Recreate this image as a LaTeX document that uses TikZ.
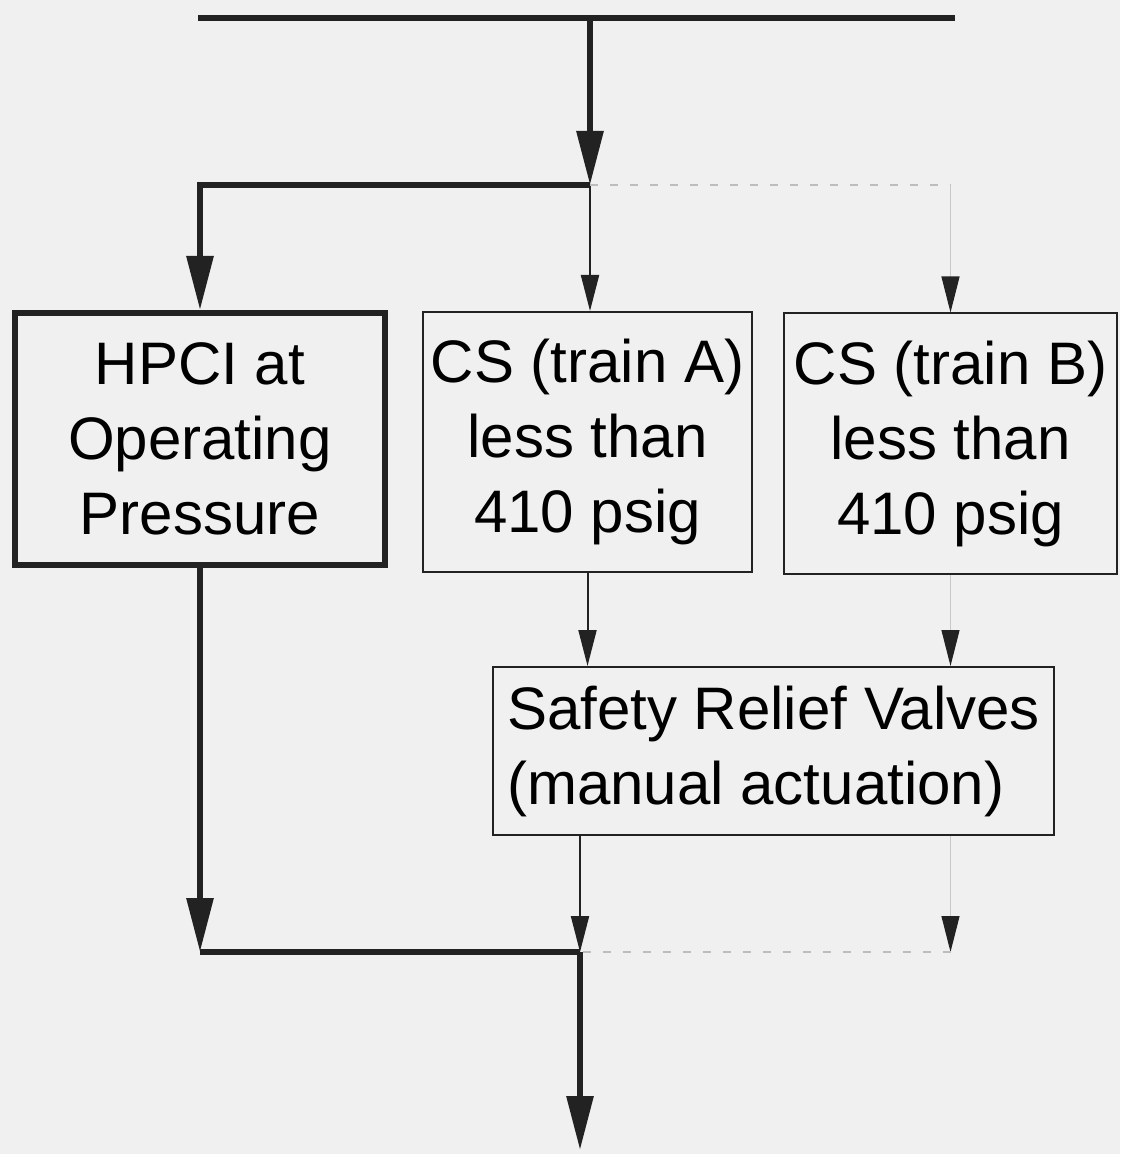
\documentclass[tikz,border=0pt]{standalone}
\usepackage{fontspec}
\setmainfont{Liberation Sans}
\usepackage{tikz}
\usetikzlibrary{arrows.meta}
\usetikzlibrary{calc}
\definecolor{ink}{HTML}{222222}
\definecolor{paper}{HTML}{F0F0F0}
\tikzstyle{thickbox} = [draw=ink,line width=3pt,align=center,inner sep=0pt,minimum width=185pt,minimum height=126pt]
\tikzstyle{thinbox} = [draw=ink,line width=1pt,align=center,inner sep=0pt,minimum height=130pt]
\tikzstyle{srvbox} = [draw=ink,line width=1pt,align=left,inner sep=0pt,minimum width=280.5pt,minimum height=84pt]
\tikzstyle{bigline} = [draw=ink,line width=3pt,line join=miter]
\tikzstyle{bigarrow} = [bigline,-{Triangle[length=27pt,width=13pt]}]
\tikzstyle{thinarrow} = [draw=ink,line width=1pt,-{Triangle[length=18pt,width=9pt]}]
\tikzstyle{faintarrow} = [draw=ink!25,line width=0.6pt,-{Triangle[length=18pt,width=9pt,color=ink]}]
\tikzstyle{faintdash} = [draw=ink!30,line width=0.6pt,dash pattern=on 4pt off 6pt]

\begin{document}
\begin{tikzpicture}[x=0.5pt,y=-0.5pt,font=\fontsize{30}{37.5}\selectfont]
\fill[paper] (0,0) rectangle (1120,1154);
\useasboundingbox (0,0) rectangle (1120,1154);

% supply bus
\coordinate (busL) at (198,18);
\coordinate (busR) at (955,18);
\coordinate (busM) at (590,18);
\coordinate (split) at (590,185);
\coordinate (join) at (580,952);
\coordinate (out) at (580,1150);

\draw(200,439) node[thickbox] (hpci) {HPCI at\\Operating\\Pressure};
\draw(587.5,442) node[thinbox,minimum width=164.5pt] (csa) {CS (train A)\\less than\\410 psig};
\draw(950.5,443.5) node[thinbox,minimum width=166.5pt] (csb) {CS (train B)\\less than\\410 psig};
\draw(773.5,751) node[srvbox] (srv) {Safety Relief Valves\\(manual actuation)};

\draw[bigline] (busL) -- (busR);
\draw[bigarrow] (busM) -- (split);
\draw[bigarrow] (split) -| (hpci.north);
\draw[thinarrow] (split) -- (split |- csa.north);
\draw[faintdash] (split) -- (split -| csb);
\draw[faintarrow] (split -| csb) -- (csb.north);

\draw[thinarrow] (csa.south) -- (csa.south |- srv.north);
\draw[faintarrow] (csb.south) -- (csb.south |- srv.north);

% to the outlet
\draw[bigarrow] (hpci.south) -- (hpci.south |- join);
\draw[bigline] (hpci.south |- join) -- (join);
\draw[thinarrow] (srv.south -| join) -- (join);
\draw[faintarrow] (srv.south -| csb) -- (csb |- join);
\draw[faintdash] (csb |- join) -- (join);
\draw[bigarrow] (join) -- (out);

\end{tikzpicture}
\end{document}
